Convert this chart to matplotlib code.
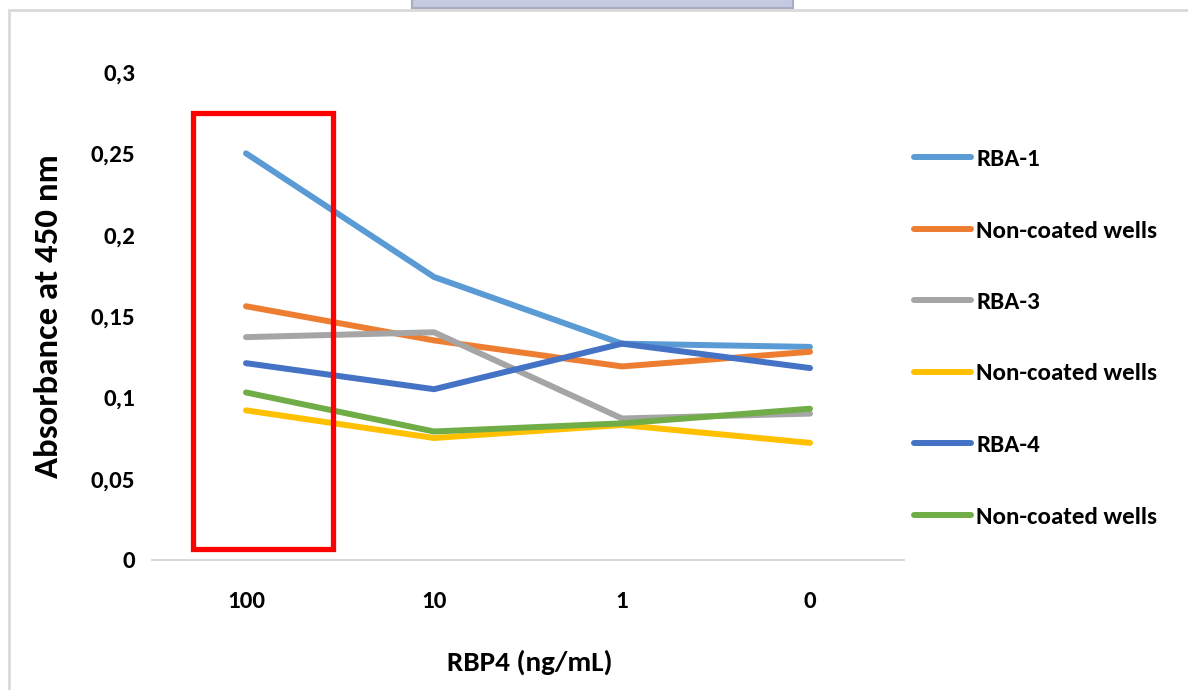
import numpy as np
import matplotlib.pyplot as plt
from matplotlib.patches import Rectangle

# RBP4 concentrations (categorical x axis) and absorbance readings
concentrations = ['100', '10', '1', '0']
rba1 = [0.250, 0.174, 0.133, 0.131]
noncoated_a = [0.156, 0.135, 0.119, 0.128]
rba3 = [0.137, 0.140, 0.087, 0.090]
noncoated_b = [0.092, 0.075, 0.083, 0.072]
rba4 = [0.121, 0.105, 0.133, 0.118]
noncoated_c = [0.103, 0.079, 0.084, 0.093]

series_names = ['RBA-1', 'Non-coated wells', 'RBA-3', 'Non-coated wells', 'RBA-4', 'Non-coated wells']
series_values = [rba1, noncoated_a, rba3, noncoated_b, rba4, noncoated_c]
series_colors = ['#5B9BD5', '#ED7D31', '#A5A5A5', '#FFC000', '#4472C4', '#70AD47']

yticks = [0, 0.05, 0.1, 0.15, 0.2, 0.25, 0.3]
ytick_labels = ['0', '0,05', '0,1', '0,15', '0,2', '0,25', '0,3']

plt.rcParams['font.family'] = ['Carlito', 'Liberation Sans Narrow', 'DejaVu Sans']

W, H = 1188, 690
fig = plt.figure(figsize=(W / 100, H / 100), dpi=100)
ax = fig.add_axes([152 / W, 1 - 560 / H, 752 / W, 488 / H])

x = np.arange(len(concentrations))
for name, vals, col in zip(series_names, series_values, series_colors):
    ax.plot(x, vals, color=col, lw=4.3, solid_capstyle='round', solid_joinstyle='round', label=name)

ax.set_xlim(-0.5, len(concentrations) - 0.5)
ax.set_ylim(0, 0.3)
ax.set_xticks(x)
ax.set_xticklabels(concentrations, fontsize=18, fontweight='bold')
ax.set_yticks(yticks)
ax.set_yticklabels(ytick_labels, fontsize=18, fontweight='bold')
ax.tick_params(axis='x', length=0, pad=22)
ax.tick_params(axis='y', length=0, pad=12)
for side in ['top', 'right', 'left']:
    ax.spines[side].set_visible(False)
ax.spines['bottom'].set_color('#d9d9d9')
ax.spines['bottom'].set_linewidth(1.5)

fig.text(49 / W, 1 - 316 / H, 'Absorbance at 450 nm', rotation=90, ha='center', va='center',
         fontsize=25, fontweight='bold')
fig.text(530 / W, 1 - 662 / H, 'RBP4 (ng/mL)', ha='center', va='center',
         fontsize=21, fontweight='bold')

leg = fig.legend(loc='upper left', bbox_to_anchor=(891 / W, 1 - 126 / H), frameon=False,
                 fontsize=18, handlelength=2.3, handletextpad=0.2, labelspacing=2.0)
for t in leg.get_texts():
    t.set_fontweight('bold')
for line in leg.get_lines():
    line.set_linewidth(4.3)

# highlight box around the 100 ng/mL column
fig.patches.append(Rectangle((193 / W, 1 - 549 / H), 140 / W, 436 / H, transform=fig.transFigure,
                             fill=False, edgecolor='#ff0000', lw=3.8, zorder=5))

# outer frame and the clipped element above it
fig.patches.append(Rectangle((9 / W, -0.01), 1.02 - 9 / W, 1 - 10 / H + 0.01, transform=fig.transFigure,
                             fill=False, edgecolor='#d9d9d9', lw=2))
fig.patches.append(Rectangle((412 / W, 1 - 8 / H), 381 / W, 8 / H + 0.01, transform=fig.transFigure,
                             facecolor='#c6c9e2', edgecolor='#a9abbf', lw=1.5))

fig.savefig('out.png', dpi=100)
